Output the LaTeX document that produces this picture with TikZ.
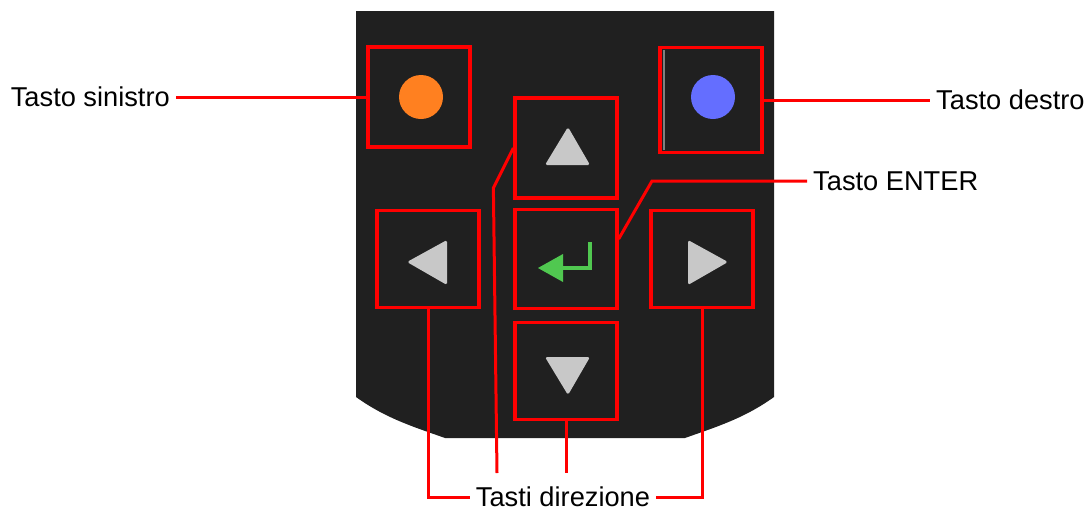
\documentclass[tikz,border=0pt]{standalone}
\usepackage{fontspec}
\setmainfont{Liberation Sans}
\usetikzlibrary{positioning}

\definecolor{panel1}{RGB}{32,32,32}
\definecolor{red1}{RGB}{255,0,0}
\definecolor{orange1}{RGB}{255,128,32}
\definecolor{blue1}{RGB}{100,110,255}
\definecolor{gray1}{RGB}{200,200,200}
\definecolor{green1}{RGB}{80,200,80}
\tikzstyle{keybox} = [draw=red1, line width=0.65mm, minimum width=20.4mm, minimum height=20mm, inner sep=0pt]
\tikzstyle{callout} = [draw=red1, line width=0.6mm]
\tikzstyle{label} = [font=\fontsize{15.5}{18}\selectfont, text=black]

\begin{document}
\begin{tikzpicture}[x=0.2mm, y=-0.2mm]
    \useasboundingbox (0,0) rectangle (1091,510);

    % body of the remote
    \fill[panel1] (356,11) -- (774,11) -- (774,397)
        .. controls (744,418.6) and (715,427.3) .. (685,438)
        -- (445,438)
        .. controls (415,427.3) and (386,418.6) .. (356,397)
        -- cycle;

    % keys
    \node[keybox] (keyL) at (419,97) {};
    \node[keybox, minimum height=21mm] (keyR) at (711,100) {};
    \node[keybox] (up) at (566,148) {};
    \node[keybox, minimum height=19.8mm] (enter) at (566,259) {};
    \node[keybox, minimum height=19.4mm] (left) at (428,259) {};
    \node[keybox, minimum height=19.4mm] (right) at (702,259) {};
    \node[keybox, minimum height=19.4mm] (down) at (566,371) {};

    % glyphs
    \fill[orange1] (421,97) circle (4.4mm);
    \draw[gray, line width=0.3mm] (664,50) -- (664,150);
    \fill[blue1] (713,97) circle (4.4mm);
    \fill[gray1, rounded corners=1pt] (568,127) -- (590,165) -- (545,165) -- cycle;
    \fill[gray1, rounded corners=1pt] (545,357) -- (590,357) -- (568,395) -- cycle;
    \fill[gray1, rounded corners=1pt] (407,262) -- (447,240) -- (447,285) -- cycle;
    \fill[gray1, rounded corners=1pt] (728,262) -- (688,240) -- (688,285) -- cycle;
    \draw[green1, line width=0.8mm] (590,242) -- (590,268) -- (560,268);
    \fill[green1] (538,268) -- (563,254) -- (563,282) -- cycle;

    % labels
    \node[label, anchor=east] (lblSin) at (176,97) {Tasto sinistro};
    \node[label, anchor=west] (lblDes) at (930,100) {Tasto destro};
    \node[label, anchor=west] (lblEnter) at (807,181) {Tasto ENTER};
    \node[label] (lblDir) at (563,497) {Tasti direzione};

    % callouts
    \coordinate (upfoot) at (497,473);
    \draw[callout] (lblSin.east) -- (keyL.west);
    \draw[callout] (keyR.east) -- (lblDes.west);
    \draw[callout] (lblEnter.west) -- ++(-155,0) -- ([yshift=4mm]enter.east);
    \draw[callout] (up.west) -- ++(-20,40) -- (upfoot);
    \draw[callout] (down.south) -- (down.south |- upfoot);
    \draw[callout] (left.south) |- (lblDir.west);
    \draw[callout] (right.south) |- (lblDir.east);
\end{tikzpicture}
\end{document}
